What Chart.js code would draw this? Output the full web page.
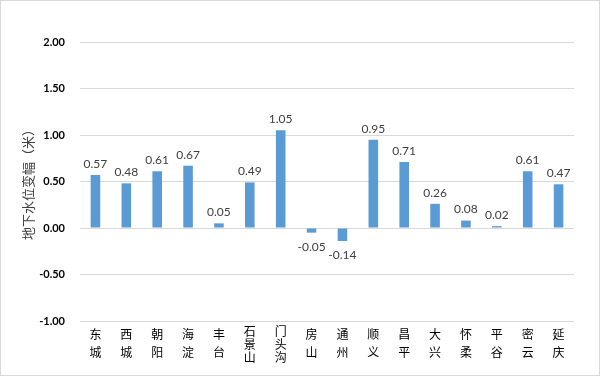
<!DOCTYPE html>
<html>
<head>
<meta charset="utf-8">
<script src="https://cdn.jsdelivr.net/npm/chart.js@4"></script>
<style>
  html, body { margin: 0; padding: 0; background: #fff; }
  .frame { width: 600px; height: 376px; box-sizing: border-box; border: 1px solid #d9d9d9; }
  .frame canvas { display: block; }
</style>
</head>
<body>
<div class="frame"><canvas id="chart" width="598" height="374"></canvas></div>
<script>
// districts, one character per line under the axis
const districts = [
  ['东', '城'], ['西', '城'], ['朝', '阳'], ['海', '淀'], ['丰', '台'],
  ['石', '景', '山'], ['门', '头', '沟'], ['房', '山'], ['通', '州'], ['顺', '义'],
  ['昌', '平'], ['大', '兴'], ['怀', '柔'], ['平', '谷'], ['密', '云'], ['延', '庆']
]
// 地下水位变幅 (m)
const changes = [0.57, 0.48, 0.61, 0.67, 0.05, 0.49, 1.05, -0.05, -0.14, 0.95, 0.71, 0.26, 0.08, 0.02, 0.61, 0.47]
const yMin = -1
const yMax = 2
const yStep = 0.5

const numFont = 'Lato, "Open Sans", "Liberation Sans", sans-serif'
const cjkFont = '"Noto Sans CJK SC", "Noto Sans", sans-serif'

// value labels above (or below) each bar
const barLabels = {
  id: 'barLabels',
  afterDatasetsDraw(chart) {
    const { ctx } = chart
    const meta = chart.getDatasetMeta(0)
    ctx.save()
    ctx.font = '12px ' + numFont
    ctx.fillStyle = '#404040'
    ctx.textAlign = 'center'
    ctx.textBaseline = 'middle'
    meta.data.forEach((bar, i) => {
      const v = changes[i]
      const y = v >= 0 ? bar.y - 11 : bar.y + 14
      ctx.fillText(v.toFixed(2), bar.x, y)
    })
    ctx.restore()
  }
}

new Chart(document.getElementById('chart'), {
  type: 'bar',
  data: {
    labels: districts,
    datasets: [{
      data: changes,
      backgroundColor: '#5b9bd5',
      borderWidth: 0,
      barPercentage: 0.31,
      categoryPercentage: 1
    }]
  },
  options: {
    responsive: false,
    animation: false,
    layout: { padding: { top: 41, right: 25, bottom: 0, left: 0 } },
    plugins: { legend: { display: false }, tooltip: { enabled: false } },
    scales: {
      x: {
        grid: { display: false, drawTicks: false },
        border: { display: false },
        ticks: {
          color: '#000',
          padding: 4,
          autoSkip: false,
          maxRotation: 0,
          // three-character names are packed tighter, like the original
          font: (ctx) => {
            const lines = districts[ctx.index] ? districts[ctx.index].length : 2
            return { family: cjkFont, size: 12, lineHeight: lines > 2 ? '13px' : '18px' }
          }
        },
        afterFit(scale) { scale.height = 54 }
      },
      y: {
        min: yMin,
        max: yMax,
        grid: { color: '#d9d9d9', drawTicks: false },
        border: { display: false },
        ticks: {
          stepSize: yStep,
          color: '#000',
          padding: 15,
          font: { family: numFont, size: 11, weight: 'bold' },
          callback: (v) => v.toFixed(2)
        },
        title: {
          display: true,
          text: '地下水位变幅（米）',
          color: '#404040',
          padding: { top: 19, bottom: 0 },
          font: { family: cjkFont, size: 13 }
        },
        afterFit(scale) { scale.width = 79 }
      }
    }
  },
  plugins: [barLabels]
})
</script>
</body>
</html>
